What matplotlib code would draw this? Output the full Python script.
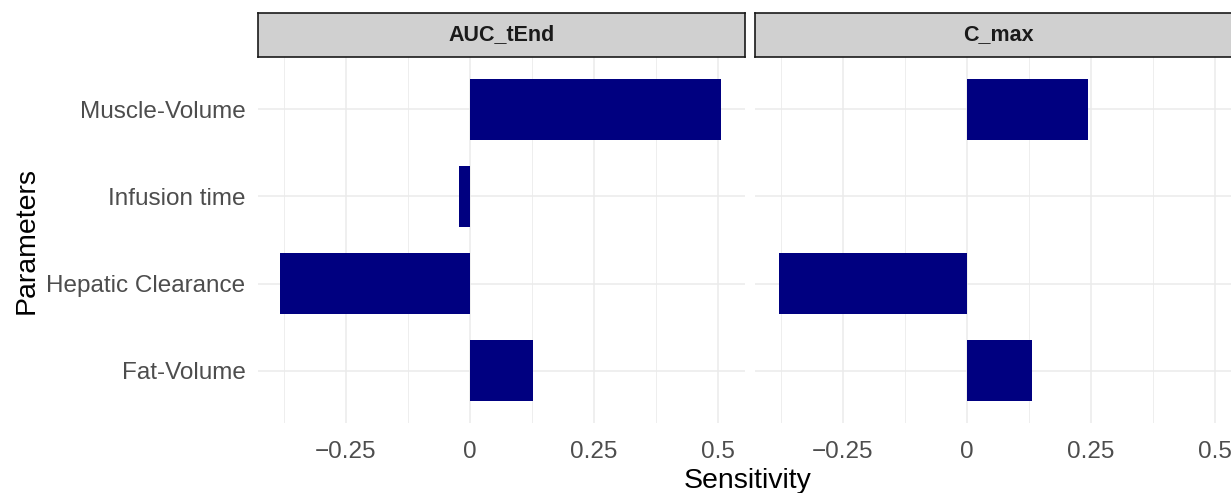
import matplotlib
matplotlib.use("Agg")
import matplotlib.pyplot as plt
import numpy as np

plt.rcParams['font.family'] = ['Liberation Sans', 'DejaVu Sans']

parameters = ["Fat-Volume", "Hepatic Clearance", "Infusion time", "Muscle-Volume"]
facets = ["AUC_tEnd", "C_max"]
auc_tend = [0.126, -0.383, -0.022, 0.505]
c_max = [0.131, -0.378, 0.0, 0.243]
values = [auc_tend, c_max]
xticks = [-0.25, 0, 0.25, 0.5]
xticklabels = ["\u22120.25", "0", "0.25", "0.5"]

W, H = 1231, 493
fig = plt.figure(figsize=(W / 100, H / 100), dpi=100)

panel_top, panel_bot = 57, 423
strip_top = 13
lefts = [258, 755]
pw = 487
xlim = (-0.427, 0.554)
bar_color = "#000080"
grid_color = "#EBEBEB"

for i, (fac, vals) in enumerate(zip(facets, values)):
    l = lefts[i]
    ax = fig.add_axes([l / W, 1 - panel_bot / H, pw / W, (panel_bot - panel_top) / H])
    ypos = np.arange(1, len(parameters) + 1)
    ax.barh(ypos, vals, height=0.7, color=bar_color, zorder=3)
    ax.set_xlim(*xlim)
    ax.set_ylim(0.4, len(parameters) + 0.6)
    ax.set_xticks(xticks)
    ax.set_xticklabels(xticklabels)
    ax.set_xticks([-0.375, -0.125, 0.125, 0.375], minor=True)
    ax.set_yticks(ypos)
    ax.grid(True, which='major', color=grid_color, lw=1.1, zorder=0)
    ax.grid(True, which='minor', axis='x', color=grid_color, lw=0.6, zorder=0)
    for s in ax.spines.values():
        s.set_visible(False)
    ax.tick_params(axis='both', which='both', length=0, labelsize=17.5, colors="#4D4D4D")
    ax.tick_params(axis='y', pad=9)
    ax.tick_params(axis='x', pad=13)
    if i == 0:
        ax.set_yticklabels(parameters)
    else:
        ax.set_yticklabels([])
    sax = fig.add_axes([l / W, 1 - panel_top / H, pw / W, (panel_top - strip_top) / H])
    sax.set_xticks([]); sax.set_yticks([])
    sax.set_facecolor("#D0D0D0")
    for s in sax.spines.values():
        s.set_color("#1A1A1A"); s.set_linewidth(1.2)
    sax.text(0.5, 0.5, fac, ha='center', va='center', fontsize=15.5, fontweight='bold', color="#1A1A1A", transform=sax.transAxes)

fig.text(748 / W, 1 - 481 / H, "Sensitivity", ha='center', va='center', fontsize=20.5, color="black")
fig.text(27 / W, 1 - 240 / H, "Parameters", ha='center', va='center', rotation=90, fontsize=20.5, color="black")

fig.savefig("out.png", dpi=100)
